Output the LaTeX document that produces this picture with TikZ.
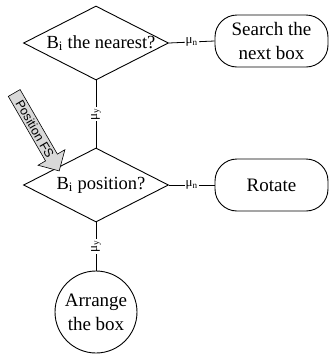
\documentclass[tikz,border=0pt]{standalone}
\usepackage{fontspec}
\setmainfont{Liberation Serif}
\newfontfamily\armfont{Liberation Sans}
\usetikzlibrary{shapes.geometric,shapes.arrows}
\tikzset{
  dia/.style={diamond, draw, line width=0.9pt, minimum width=145pt, minimum height=74pt, inner sep=0pt},
  rbox/.style={draw, line width=0.9pt, rounded corners=22pt, minimum width=113pt, minimum height=52pt, align=center, font=\fontsize{19}{24}\selectfont, inner sep=0pt},
  ctext/.style={font=\fontsize{18.5}{24}\selectfont, inner sep=0pt, align=center},
  circ/.style={circle, draw, line width=0.9pt, minimum size=82pt, inner sep=0pt, align=center, font=\fontsize{19}{24}\selectfont},
  conn/.style={line width=0.8pt},
  mu/.style={fill=white, inner sep=1pt, font=\fontsize{13}{13}\selectfont},
  fsarrow/.style={single arrow, draw, line width=0.6pt, fill=gray!30, minimum height=90pt, minimum width=31pt, single arrow head extend=7.5pt, single arrow head indent=0pt, inner sep=1pt, font=\armfont\fontsize{12.5}{12.5}\selectfont}
}
\begin{document}
\begin{tikzpicture}[x=1pt, y=-1pt]
\useasboundingbox (0,0) rectangle (332,354);
\node[dia] (d1) at (96,43) {};
\node[ctext] (t1) at (101,43) {B\textsubscript{i} the nearest?};
\node[rbox] (b1) at (271.5,41) {Search the\\next box};
\node[dia] (d2) at (96,185) {};
\node[ctext] (t2) at (101,185) {B\textsubscript{i} position?};
\node[rbox] (b2) at (271.5,185) {Rotate};
\node[circ] (c1) at (96,312) {Arrange\\the box};
\draw[conn] (d1.east) -- node[mu] {μ\textsubscript{n}} (b1.west);
\draw[conn] (d2.east) -- node[mu] {μ\textsubscript{n}} (b2.west);
\draw[conn] (d1.south) -- node[mu, rotate=90] {μ\textsubscript{y}} (d2.north);
\draw[conn] (d2.south) -- node[mu, rotate=90] {μ\textsubscript{y}} (c1.north);
\node[fsarrow, rotate=-60] (fs) at (35,129) {Position FS};
\end{tikzpicture}
\end{document}
